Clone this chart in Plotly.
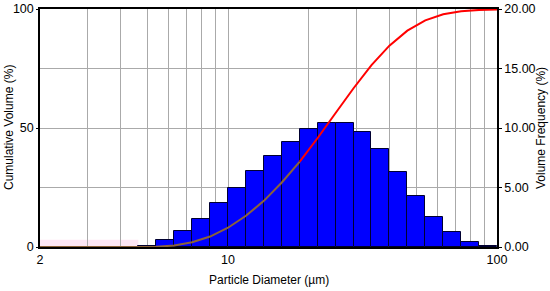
import numpy as np
import plotly.graph_objects as go

# bin edges (um), 15 bins per decade
bin_edges = [4.642, 5.412, 6.310, 7.356, 8.577, 10.00, 11.66, 13.59, 15.85, 18.48,
             21.54, 25.12, 29.29, 34.15, 39.81, 46.42, 54.12, 63.10, 73.56, 85.77, 100.0]
volume_freq = [0.08, 0.55, 1.38, 2.36, 3.72, 4.98, 6.35, 7.66, 8.85, 9.92,
               10.45, 10.45, 9.70, 8.21, 6.28, 4.31, 2.55, 1.26, 0.43, 0.08]

# cumulative curve
curve_size = [2.0, 4.642, 5.412, 6.310, 7.356, 8.577, 10.00, 11.66, 13.59, 15.85, 18.48,
              21.54, 25.12, 29.29, 34.15, 39.81, 46.42, 54.12, 63.10, 73.56, 85.77, 100.0]
curve_cum = [0.0, 0.0, 0.08, 0.63, 2.0, 4.4, 8.1, 13.1, 19.4, 27.1, 35.9,
             45.8, 56.3, 66.7, 76.4, 84.6, 90.9, 95.2, 97.8, 99.1, 99.6, 99.8]
split_size = 18.48  # curve turns red above this diameter

x_ticks = [2, 3, 4, 5, 6, 7, 8, 9, 10, 20, 30, 40, 50, 60, 70, 80, 90, 100]
x_labels = {2: "2", 10: "10", 100: "100"}

font = dict(family="Arial, Liberation Sans, sans-serif", size=12, color="black")
tick_font = dict(family="Arial, Liberation Sans, sans-serif", size=12.5, color="black")

edges = np.log10(bin_edges)
centers = (edges[:-1] + edges[1:]) / 2
widths = np.diff(edges)
lx = np.log10(curve_size)
cum = np.array(curve_cum)
low = np.array(curve_size) <= split_size
high = np.array(curve_size) >= split_size

fig = go.Figure()

fig.add_trace(go.Bar(
    x=centers, y=volume_freq, width=widths,
    marker=dict(color="#0000ff", line=dict(color="#000030", width=1)),
    yaxis="y",
))
fig.add_trace(go.Scatter(
    x=lx[low], y=cum[low], mode="lines",
    line=dict(color="#8c6239", width=2), yaxis="y2",
))
fig.add_trace(go.Scatter(
    x=lx[high], y=cum[high], mode="lines",
    line=dict(color="#ff0000", width=2), yaxis="y2",
))

# faint pink band at the lower left
fig.add_shape(type="rect", xref="x", yref="y",
              x0=np.log10(2), x1=edges[0], y0=0, y1=0.6,
              fillcolor="#fde6f4", line_width=0, layer="below")

# axis titles as annotations so they sit exactly
titles = [
    dict(text="Particle Diameter (µm)", x=0.5, y=0, yshift=-33, textangle=0),
    dict(text="Cumulative Volume (%)", x=0, y=0.5, xshift=-31, textangle=-90),
    dict(text="Volume Frequency (%)", x=1, y=0.5, xshift=44, textangle=-90),
]
for t in titles:
    fig.add_annotation(xref="paper", yref="paper", showarrow=False,
                       xanchor="center", yanchor="middle", font=font, **t)

fig.update_layout(
    width=550, height=291,
    margin=dict(l=40, r=53, t=9, b=44),
    plot_bgcolor="white", paper_bgcolor="white",
    showlegend=False, bargap=0,
    font=font,
    xaxis=dict(
        range=[np.log10(2), 2], automargin=False,
        tickvals=np.log10(x_ticks),
        ticktext=[x_labels.get(t, "") for t in x_ticks],
        tickfont=tick_font,
        showgrid=True, gridcolor="#aaaaaa", gridwidth=1,
        showline=True, linecolor="black", linewidth=1.5, mirror=True,
        ticks="", zeroline=False,
    ),
    yaxis=dict(
        side="right", range=[0, 20], automargin=False,
        tickvals=[0, 5, 10, 15, 20], tickformat=".2f",
        tickfont=tick_font,
        showgrid=True, gridcolor="#aaaaaa", gridwidth=1,
        showline=True, linecolor="black", linewidth=1.5,
        ticks="outside", ticklen=3, tickcolor="black", zeroline=False,
    ),
    yaxis2=dict(
        side="left", overlaying="y", range=[0, 100], automargin=False,
        tickvals=[0, 50, 100],
        tickfont=tick_font,
        showgrid=False,
        showline=True, linecolor="black", linewidth=1.5,
        ticks="outside", ticklen=2, tickcolor="black", zeroline=False,
    ),
)

# drop the default 8px page margin so the figure fills the window
fig.write_html("out.html", config={"displayModeBar": False},
               post_script="document.body.style.margin='0';")
